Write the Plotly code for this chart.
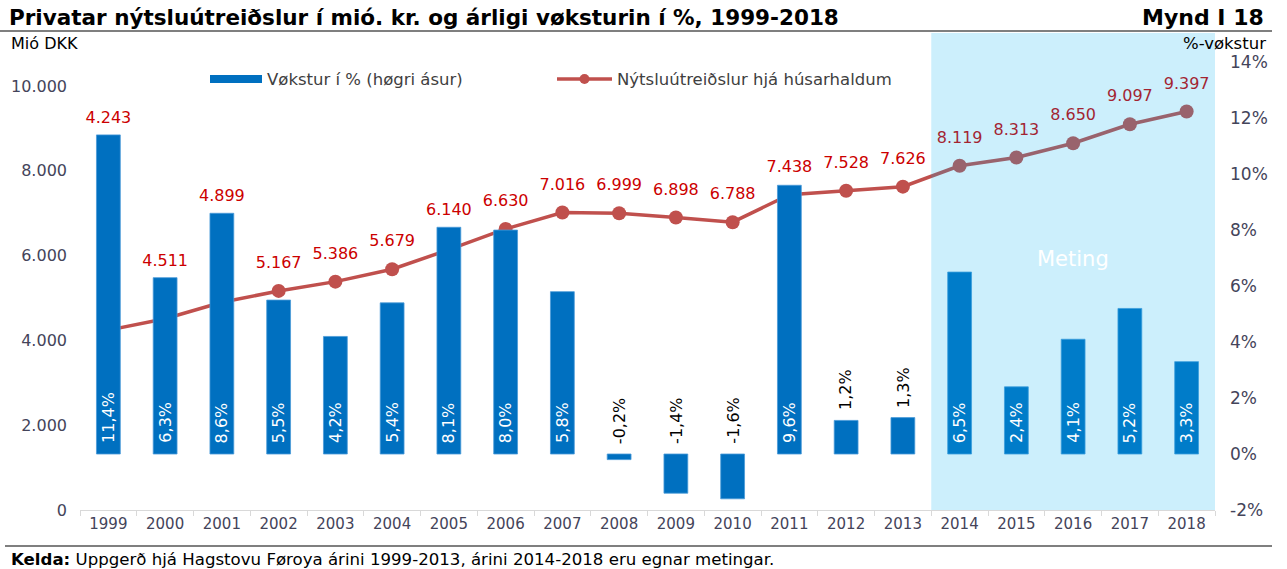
import plotly.graph_objects as go

# ---------------- data ----------------
years = [str(y) for y in range(1999, 2019)]
growth_pct = [11.4, 6.3, 8.6, 5.5, 4.2, 5.4, 8.1, 8.0, 5.8, -0.2, -1.4, -1.6,
              9.6, 1.2, 1.3, 6.5, 2.4, 4.1, 5.2, 3.3]
consumption = [4243, 4511, 4899, 5167, 5386, 5679, 6140, 6630, 7016, 6999,
               6898, 6788, 7438, 7528, 7626, 8119, 8313, 8650, 9097, 9397]
left_ticks = [0, 2000, 4000, 6000, 8000, 10000]
left_tick_text = ["0", "2.000", "4.000", "6.000", "8.000", "10.000"]
right_ticks = [-2, 0, 2, 4, 6, 8, 10, 12, 14]
right_tick_text = [f"{v}%" for v in right_ticks]
forecast_start, forecast_end = "2014", "2018"

bar_name = "Vøkstur í % (høgri ásur)"
line_name = "Nýtsluútreiðslur hjá húsarhaldum"
title = "Privatar nýtsluútreiðslur í mió. kr. og árligi vøksturin í %, 1999-2018"
fig_id = "Mynd I 18"
source = "<b>Kelda:</b> Uppgerð hjá Hagstovu Føroya árini 1999-2013, árini 2014-2018 eru egnar metingar."

# ---------------- layout geometry ----------------
W, H = 1287, 569
ML, MR, MT, MB = 80, 72, 33, 59
PW, PH = W - ML - MR, H - MT - MB
LMAX = 11250.0
RMIN, RMAX = -2.0, 15.04
ppu = PH / LMAX  # px per left-axis unit

FONT = "DejaVu Sans"
BLUE = "#0070C0"
RED_LINE = "#C0504D"
RED_TXT = "#CC0000"
TICK_COL = "#44445A"

def px_x(px):
    return (px - ML) / PW

def px_y(py):
    return (H - MB - py) / PH

def pct_to_left(p):
    return (p - RMIN) / (RMAX - RMIN) * LMAX

# label positions for the line values: above marker or above bar, whichever higher
label_y = []
for c, g in zip(consumption, growth_pct):
    y1 = c + 27 / ppu
    y2 = pct_to_left(max(g, 0)) + 16 / ppu
    label_y.append(max(y1, y2))

fig = go.Figure()

fig.add_trace(go.Bar(
    x=years, y=growth_pct, yaxis="y2",
    marker=dict(color=BLUE, line=dict(width=0.8, color="#4A9AD8")),
    width=0.42, showlegend=False, name=bar_name,
))

fig.add_trace(go.Scatter(
    x=years, y=consumption, mode="lines+markers", name=line_name,
    line=dict(color=RED_LINE, width=3.5), marker=dict(size=14, color=RED_LINE),
    showlegend=False,
))

fig.add_trace(go.Scatter(
    x=years, y=label_y, mode="text",
    text=[f"{v:,}".replace(",", ".") for v in consumption],
    textposition="middle center",
    textfont=dict(family=FONT, size=16, color=RED_TXT),
    showlegend=False, hoverinfo="skip",
))

# bar labels
for i, g in enumerate(growth_pct):
    txt = f"{g:.1f}%".replace(".", ",")
    inside = g >= 2
    fig.add_annotation(x=i, y=0 if inside else max(g, 0), xref="x", yref="y2", text=txt,
                       textangle=-90, showarrow=False, yanchor="bottom", xanchor="center",
                       yshift=9 if inside else 8,
                       font=dict(family=FONT, size=16, color="white" if inside else "black"))

# forecast shading
fs = years.index(forecast_start) - 0.5
fe = years.index(forecast_end) + 0.5
fig.add_shape(type="rect", xref="x", yref="paper", x0=fs, x1=fe, y0=0, y1=1,
              fillcolor="rgba(0,176,240,0.2)", line=dict(width=0), layer="above")
fig.add_annotation(x=(fs + fe) / 2, y=px_y(259), xref="x", yref="paper", text="Meting",
                   showarrow=False, font=dict(family=FONT, size=21, color="white"))

# rules
fig.add_shape(type="line", xref="paper", yref="paper", x0=px_x(0), x1=px_x(1272),
              y0=px_y(31), y1=px_y(31), line=dict(color="#7F7F7F", width=2))
fig.add_shape(type="line", xref="paper", yref="paper", x0=px_x(5), x1=px_x(1272),
              y0=px_y(546), y1=px_y(546), line=dict(color="#7F7F7F", width=2))

# manual legend
LEG_Y = 79
LEG_FONT = dict(family=FONT, size=16.5, color="#404040")
fig.add_shape(type="line", xref="paper", yref="paper", x0=px_x(210), x1=px_x(262),
              y0=px_y(LEG_Y), y1=px_y(LEG_Y), line=dict(color=BLUE, width=8))
fig.add_annotation(x=px_x(265), y=px_y(LEG_Y), xref="paper", yref="paper", text=bar_name,
                   showarrow=False, xanchor="left", yanchor="middle", font=LEG_FONT)
fig.add_shape(type="line", xref="paper", yref="paper", x0=px_x(557), x1=px_x(612),
              y0=px_y(LEG_Y), y1=px_y(LEG_Y), line=dict(color=RED_LINE, width=3.5))
fig.add_shape(type="circle", xref="paper", yref="paper", x0=px_x(579.5), x1=px_x(589.5),
              y0=px_y(LEG_Y - 5), y1=px_y(LEG_Y + 5), fillcolor=RED_LINE,
              line=dict(color=RED_LINE, width=0))
fig.add_annotation(x=px_x(615), y=px_y(LEG_Y), xref="paper", yref="paper", text=line_name,
                   showarrow=False, xanchor="left", yanchor="middle", font=LEG_FONT)

# texts
fig.add_annotation(x=px_x(7), y=px_y(17), xref="paper", yref="paper", text=f"<b>{title}</b>",
                   showarrow=False, xanchor="left", yanchor="middle",
                   font=dict(family=FONT, size=21.5, color="black"))
fig.add_annotation(x=px_x(1266), y=px_y(17), xref="paper", yref="paper", text=f"<b>{fig_id}</b>",
                   showarrow=False, xanchor="right", yanchor="middle",
                   font=dict(family=FONT, size=22, color="black"))
fig.add_annotation(x=px_x(9), y=px_y(43), xref="paper", yref="paper", text="Mió DKK",
                   showarrow=False, xanchor="left", yanchor="middle",
                   font=dict(family=FONT, size=16, color="black"))
fig.add_annotation(x=px_x(1268), y=px_y(43), xref="paper", yref="paper", text="%-vøkstur",
                   showarrow=False, xanchor="right", yanchor="middle",
                   font=dict(family=FONT, size=16.5, color="black"))
fig.add_annotation(x=px_x(9), y=px_y(559), xref="paper", yref="paper", text=source,
                   showarrow=False, xanchor="left", yanchor="middle",
                   font=dict(family=FONT, size=16.6, color="black"))

fig.update_layout(
    width=W, height=H,
    margin=dict(l=ML, r=MR, t=MT, b=MB, autoexpand=False),
    paper_bgcolor="white", plot_bgcolor="white",
    font=dict(family=FONT, size=15, color=TICK_COL),
    showlegend=False,
    xaxis=dict(type="category", showgrid=False, showline=True, linecolor="#D9D9D9",
               linewidth=1, ticks="outside", tickson="boundaries", ticklen=5,
               tickcolor="#D9D9D9", tickfont=dict(family=FONT, size=15, color=TICK_COL),
               range=[-0.5, len(years) - 0.5], automargin=False),
    yaxis=dict(range=[0, LMAX], tickvals=left_ticks, ticktext=left_tick_text,
               showgrid=False, zeroline=False, showline=False, automargin=False,
               tickfont=dict(family=FONT, size=16, color=TICK_COL), ticklabelstandoff=12),
    yaxis2=dict(range=[RMIN, RMAX], tickvals=right_ticks, ticktext=right_tick_text,
                overlaying="y", side="right", showgrid=False, zeroline=False, showline=False,
                automargin=False,
                tickfont=dict(family=FONT, size=17, color=TICK_COL), ticklabelstandoff=14),
)

# remove the default 8px page margin so the figure fills the window exactly
fig.write_html("out.html", config={"displayModeBar": False},
               post_script="document.body.style.margin='0px';")
